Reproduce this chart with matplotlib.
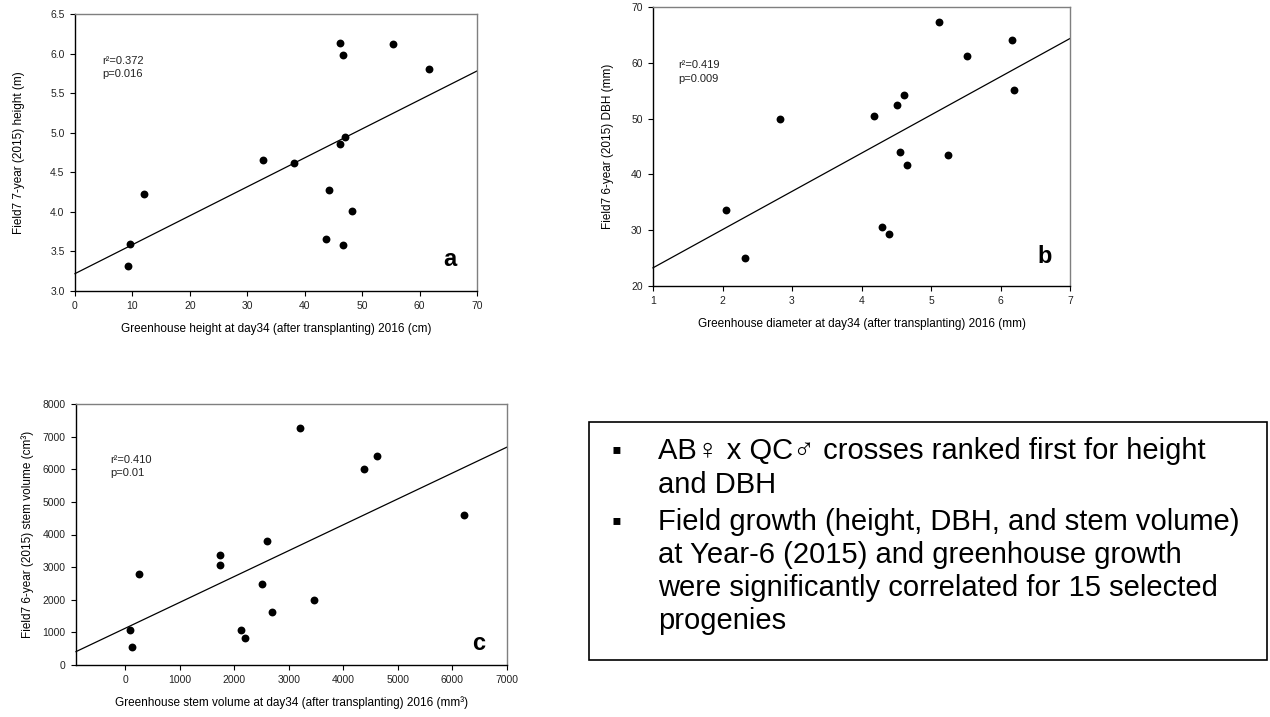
import matplotlib
matplotlib.use('agg')
import matplotlib.pyplot as plt
from matplotlib.patches import Rectangle
import numpy as np

plt.rcParams['font.family'] = ['Liberation Sans', 'DejaVu Sans']

# panel a: greenhouse height (cm) vs field height (m)
height_gh = [46.2, 55.4, 46.7, 47.0, 46.1, 32.7, 38.2, 44.3, 12.0, 48.3, 43.7, 46.7, 9.5, 9.2, 61.7]
height_field = [6.13, 6.12, 5.98, 4.94, 4.86, 4.66, 4.62, 4.28, 4.23, 4.01, 3.66, 3.58, 3.60, 3.31, 5.81]

# panel b: greenhouse diameter (mm) vs field DBH (mm)
diam_gh = [5.11, 6.16, 5.52, 6.19, 4.61, 4.51, 4.18, 2.83, 4.55, 5.25, 4.65, 2.05, 4.30, 4.40, 2.32]
dbh_field = [67.3, 64.0, 61.3, 55.1, 54.3, 52.5, 50.4, 50.0, 44.0, 43.4, 41.7, 33.6, 30.6, 29.3, 25.0]

# panel c: greenhouse stem volume (mm3) vs field stem volume (cm3)
vol_gh = [3208, 4623, 4386, 2594, 1731, 1731, 249, 2509, 3457, 2697, 97, 2126, 2205, 128, 6209]
vol_field = [7276, 6418, 6020, 3806, 3367, 3071, 2776, 2469, 1990, 1633, 1082, 1061, 837, 561, 4610]

stats = ["r\u00b2=0.372\np=0.016", "r\u00b2=0.419\np=0.009", "r\u00b2=0.410\np=0.01"]
letters = ["a", "b", "c"]

bullets = [
    ["AB\u2640 x QC\u2642 crosses ranked first for height", "and DBH"],
    ["Field growth (height, DBH, and stem volume)",
     "at Year-6 (2015) and greenhouse growth",
     "were significantly correlated for 15 selected",
     "progenies"],
]

W, H = 1270, 717
fig = plt.figure(figsize=(W / 100, H / 100), dpi=100)


def px_axes(left, right, top, bottom):
    return fig.add_axes([left / W, 1 - bottom / H, (right - left) / W, (bottom - top) / H])


def style(ax):
    for s in ['top', 'right']:
        ax.spines[s].set_color('#7f7f7f')
    for s in ax.spines.values():
        s.set_linewidth(1.0)
    ax.tick_params(direction='out', length=3.5, width=0.8, labelsize=7.5, pad=4,
                   colors='black', labelcolor='#222222')


def scatter_fit(ax, x, y, xlim):
    ax.scatter(x, y, s=32, color='black', zorder=3, linewidths=0)
    slope, icpt = np.polyfit(x, y, 1)
    xs = np.array(xlim)
    ax.plot(xs, icpt + slope * xs, color='black', lw=0.9, clip_on=False)


# ---- panel a
ax_a = px_axes(75, 477, 14, 291)
scatter_fit(ax_a, height_gh, height_field, (0, 70))
ax_a.set_xlim(0, 70)
ax_a.set_ylim(3.0, 6.5)
ax_a.set_xticks(np.arange(0, 71, 10))
ax_a.set_yticks(np.arange(3.0, 6.51, 0.5))
ax_a.yaxis.set_major_formatter(matplotlib.ticker.FormatStrFormatter('%.1f'))
ax_a.set_xlabel("Greenhouse height at day34 (after transplanting) 2016 (cm)", fontsize=8.5, labelpad=8)
ax_a.set_ylabel("Field7 7-year (2015) height (m)", fontsize=8.5, labelpad=18)

# ---- panel b
ax_b = px_axes(653, 1070, 7, 286)
scatter_fit(ax_b, diam_gh, dbh_field, (1, 7))
ax_b.set_xlim(1, 7)
ax_b.set_ylim(20, 70)
ax_b.set_xticks(np.arange(1, 8, 1))
ax_b.set_yticks(np.arange(20, 71, 10))
ax_b.set_xlabel("Greenhouse diameter at day34 (after transplanting) 2016 (mm)", fontsize=8.5, labelpad=8)
ax_b.set_ylabel("Field7 6-year (2015) DBH (mm)", fontsize=8.5, labelpad=12)

# ---- panel c
ax_c = px_axes(76, 507, 404, 665)
scatter_fit(ax_c, vol_gh, vol_field, (-900, 7000))
ax_c.set_xlim(-900, 7000)
ax_c.set_ylim(0, 8000)
ax_c.set_xticks(np.arange(0, 7001, 1000))
ax_c.set_yticks(np.arange(0, 8001, 1000))
ax_c.set_xlabel("Greenhouse stem volume at day34 (after transplanting) 2016 (mm\u00b3)", fontsize=8.5, labelpad=8)
ax_c.set_ylabel("Field7 6-year (2015) stem volume (cm\u00b3)", fontsize=8.5, labelpad=6)

stat_pos = [(0.067, 0.85), (0.06, 0.81), (0.079, 0.805)]
letter_pos = [(0.933, 0.115), (0.94, 0.104), (0.935, 0.084)]
for ax, txt, sp, let, lp in zip([ax_a, ax_b, ax_c], stats, stat_pos, letters, letter_pos):
    style(ax)
    ax.text(sp[0], sp[1], txt, transform=ax.transAxes, fontsize=8, va='top', ha='left',
            linespacing=1.45, color='#222222')
    ax.text(lp[0], lp[1], let, transform=ax.transAxes, fontsize=17, fontweight='bold',
            ha='center', va='center')

# ---- text box
fig.patches.append(Rectangle((589 / W, 1 - 660 / H), (1267 - 589) / W, (660 - 422) / H,
                             transform=fig.transFigure, fill=False, ec='black', lw=1.2))
baselines = [[459, 493], [530, 563, 596, 629]]
for lines, bls in zip(bullets, baselines):
    fig.text(616 / W, 1 - (bls[0] - 8) / H, "\u25aa", fontsize=20, ha='center', va='center')
    for line, b in zip(lines, bls):
        fig.text(658 / W, 1 - b / H, line, fontsize=21, ha='left', va='baseline')

fig.savefig("out.png", dpi=100)
